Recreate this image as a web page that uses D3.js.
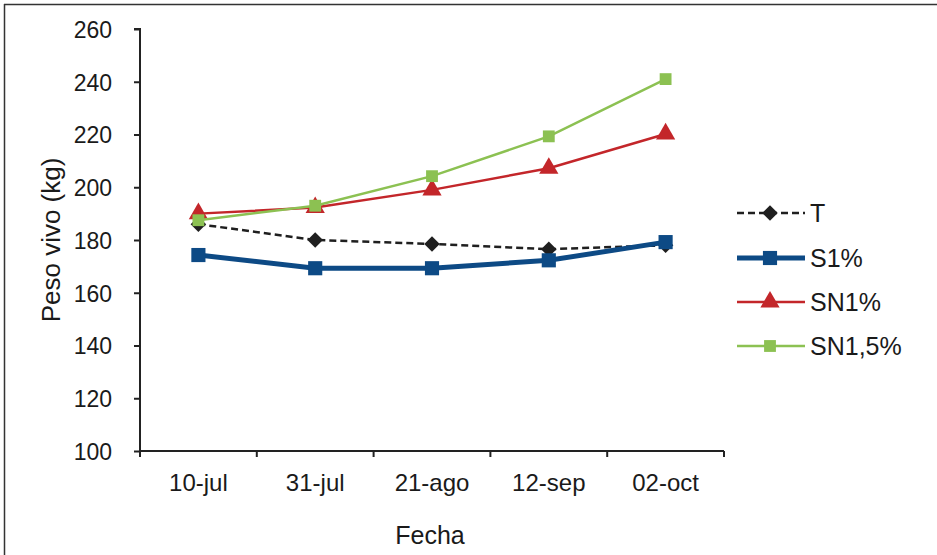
<!DOCTYPE html>
<html><head><meta charset="utf-8">
<script src="https://cdn.jsdelivr.net/npm/d3@7"></script>
<style>body{margin:0;background:#fff}svg{display:block}text{font-family:"Liberation Sans",Arial,sans-serif;fill:#1a1a1a}</style>
</head><body><svg id="c" width="937" height="555"></svg>
<script>
const categories = ["10-jul","31-jul","21-ago","12-sep","02-oct"];
const yTicks = [100,120,140,160,180,200,220,240,260];
const seriesNames = ["T","S1%","SN1%","SN1,5%"];
const valuesT = [186,180,178.5,176.5,178];
const valuesS1 = [174.3,169.3,169.3,172.3,179.2];
const valuesSN1 = [190,192.3,199,207.2,220.2];
const valuesSN15 = [187.5,193,204.2,219.3,241];

const series = [
  {name:seriesNames[0], values:valuesT, color:"#1f1f1f", width:2.5, dash:"7,4", marker:"diamond", msize:120},
  {name:seriesNames[1], values:valuesS1, color:"#0d4a85", width:5, dash:null, marker:"square", msize:200},
  {name:seriesNames[2], values:valuesSN1, color:"#c3262a", width:2.5, dash:null, marker:"triangle", msize:160},
  {name:seriesNames[3], values:valuesSN15, color:"#8cc152", width:2.5, dash:null, marker:"square", msize:140}
];

const svg = d3.select("#c");
svg.append("line").attr("x1",4).attr("x2",937).attr("y1",4.5).attr("y2",4.5).attr("stroke","#333").attr("stroke-width",1.5);
svg.append("line").attr("x1",4.5).attr("x2",4.5).attr("y1",4).attr("y2",555).attr("stroke","#333").attr("stroke-width",1.5);

const x = d3.scaleBand().domain(categories).range([140,724]);
const y = d3.scaleLinear().domain([100,260]).range([451,29]);

const yAxis = d3.axisLeft(y).tickValues(yTicks).tickSize(6).tickPadding(22);
const gy = svg.append("g").attr("transform","translate(140,0)").call(yAxis);
gy.select(".domain").attr("stroke","#222").attr("stroke-width",2).attr("d","M-6,29H0V451");
gy.selectAll(".tick line").attr("stroke","#222").attr("stroke-width",2);
gy.selectAll(".tick text").attr("font-size",23).style("fill","#1a1a1a").attr("dy","0.36em");

const xAxis = d3.axisBottom(x).tickSize(0).tickPadding(23);
const gx = svg.append("g").attr("transform","translate(0,451)").call(xAxis);
gx.select(".domain").attr("stroke","#222").attr("stroke-width",2).attr("d","M140,0H724");
gx.selectAll(".tick text").attr("font-size",24).style("fill","#1a1a1a");
const bounds = categories.map(c=>x(c)).concat([x.range()[1]]);
gx.selectAll(".bt").data(bounds).enter().append("line")
  .attr("x1",d=>d).attr("x2",d=>d).attr("y1",0).attr("y2",6).attr("stroke","#222").attr("stroke-width",2);

svg.append("text").attr("x",430).attr("y",544).attr("text-anchor","middle").attr("font-size",25).text("Fecha");
svg.append("text").attr("transform","translate(60,240) rotate(-90)").attr("text-anchor","middle").attr("font-size",26).text("Peso vivo (kg)");

const sym = {diamond:d3.symbolSquare, square:d3.symbolSquare, triangle:d3.symbolTriangle};
const rot = {diamond:45, square:0, triangle:0};
const line = d3.line().x((d,i)=>x(categories[i])+x.bandwidth()/2).y(d=>y(d));

series.forEach(s=>{
  svg.append("path").attr("d",line(s.values)).attr("fill","none").attr("stroke",s.color)
    .attr("stroke-width",s.width).attr("stroke-dasharray",s.dash);
  svg.selectAll(null).data(s.values).enter().append("path")
    .attr("transform",(d,i)=>`translate(${x(categories[i])+x.bandwidth()/2},${y(d)}) rotate(${rot[s.marker]})`)
    .attr("d",d3.symbol(sym[s.marker]).size(s.msize)).attr("fill",s.color);
});

const legY = [213,258,302,346];
series.forEach((s,i)=>{
  const g = svg.append("g").attr("transform",`translate(0,${legY[i]})`);
  g.append("line").attr("x1",737).attr("x2",805).attr("y1",0).attr("y2",0).attr("stroke",s.color)
    .attr("stroke-width",s.width).attr("stroke-dasharray",s.dash);
  g.append("path").attr("transform",`translate(770,0) rotate(${rot[s.marker]})`).attr("d",d3.symbol(sym[s.marker]).size(s.msize)).attr("fill",s.color);
  g.append("text").attr("x",810).attr("y",0).attr("dy","0.36em").attr("font-size",25).text(s.name);
});
</script></body></html>
